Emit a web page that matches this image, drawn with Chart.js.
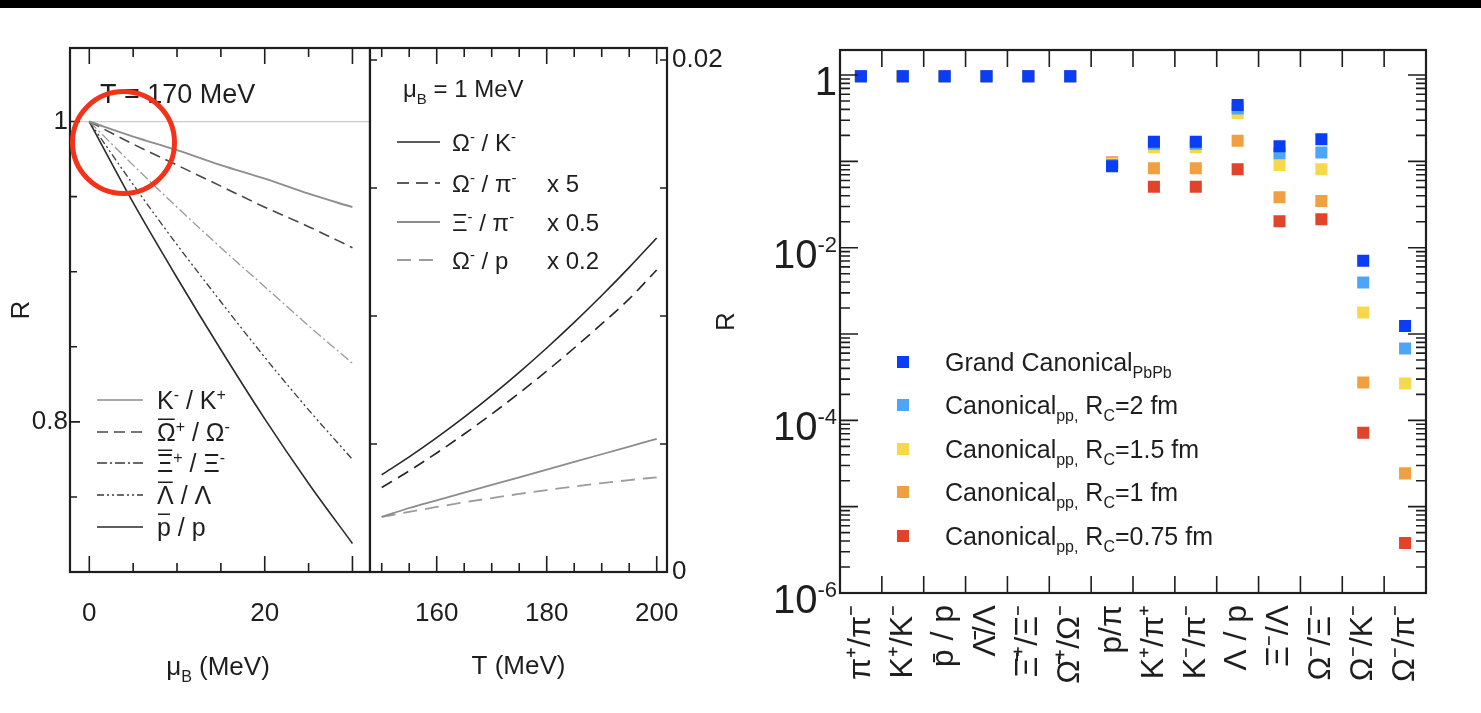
<!DOCTYPE html>
<html lang="en">
<head>
<meta charset="UTF-8">
<title>Particle ratios: grand canonical vs canonical</title>
<style>
  body { margin: 0; background: #fff; width: 1481px; height: 713px; overflow: hidden; position: relative; }
  #topbar { position: absolute; left: 0; top: 0; width: 1481px; height: 8px; background: #000; }
  .panel { position: absolute; top: 0; height: 713px; }
  #muPanel { left: 0; width: 370px; }
  #tPanel { left: 360px; width: 370px; }
  #ratioPanel { left: 700px; width: 781px; }
</style>
</head>
<body>
<div id="topbar"></div>
<div class="panel" id="muPanel"><canvas id="muChart"></canvas></div>
<div class="panel" id="tPanel"><canvas id="tChart"></canvas></div>
<div class="panel" id="ratioPanel"><canvas id="ratioChart"></canvas></div>

<script src="https://cdn.jsdelivr.net/npm/chart.js"></script>
<script>
// --- left panel: antiparticle/particle ratios vs muB at T = 170 MeV
const muB = [0, 5, 10, 15, 20, 25, 30];
const kaonRatio = [1, 0.990, 0.981, 0.971, 0.962, 0.952, 0.943];
const omegaRatio = [1, 0.985, 0.971, 0.957, 0.943, 0.930, 0.916];
const xiRatio = [1, 0.971, 0.943, 0.916, 0.890, 0.864, 0.839];
const lambdaRatio = [1, 0.958, 0.918, 0.880, 0.843, 0.808, 0.775];
const protonRatio = [1, 0.946, 0.896, 0.848, 0.802, 0.759, 0.719];
const unityLine = [1, 1];

// --- middle panel: strange ratios vs T at muB = 1 MeV
const temps = [150, 155, 160, 165, 170, 175, 180, 185, 190, 195, 200];
const omegaToKaon = [0.0038, 0.0045, 0.00525, 0.00605, 0.0069, 0.0078, 0.00875, 0.00975, 0.0108, 0.0119, 0.01305];
const omegaToPionX5 = [0.0033, 0.00395, 0.00465, 0.00539, 0.00617, 0.00699, 0.00785, 0.00875, 0.00969, 0.01067, 0.0118];
const xiToPionX05 = [0.00215, 0.0025, 0.0028, 0.0031, 0.0034, 0.0037, 0.0040, 0.0043, 0.0046, 0.0049, 0.0052];
const omegaToProtonX02 = [0.00215, 0.00235, 0.00254, 0.00272, 0.00289, 0.00305, 0.0032, 0.00334, 0.00347, 0.00359, 0.0037];

// --- right panel: ratios, grand canonical vs canonical
const ratioLabels = ['π⁺/π⁻', 'K⁺/K⁻', 'p̄ / p', 'Λ̄/Λ', 'Ξ̄⁺/Ξ⁻', 'Ω̄⁺/Ω⁻', 'p/π', 'K⁺/π⁺', 'K⁻/π⁻', 'Λ / p', 'Ξ⁻/Λ', 'Ω⁻/Ξ⁻', 'Ω⁻/K⁻', 'Ω⁻/π⁻'];
const grandCanonical = [0.97, 0.97, 0.97, 0.97, 0.97, 0.97, 0.088, 0.169, 0.169, 0.449, 0.150, 0.180, 0.00705, 0.00124];
const canonicalR2 = [0.97, 0.97, 0.97, 0.97, 0.97, 0.97, 0.091, 0.160, 0.160, 0.410, 0.124, 0.127, 0.00396, 0.00068];
const canonicalR15 = [0.97, 0.97, 0.97, 0.97, 0.97, 0.97, 0.094, 0.146, 0.146, 0.363, 0.0906, 0.081, 0.00178, 0.000268];
const canonicalR1 = [0.97, 0.97, 0.97, 0.97, 0.97, 0.97, 0.096, 0.083, 0.083, 0.173, 0.0383, 0.0347, 0.000275, 0.0000243];
const canonicalR075 = [0.97, 0.97, 0.97, 0.97, 0.97, 0.97, 0.097, 0.0508, 0.0508, 0.081, 0.0203, 0.0214, 0.000072, 0.0000038];

const FONT = '"Liberation Sans", Arial, Helvetica, sans-serif';
const INK = '#1e1e1e';
Chart.defaults.font.family = FONT;
Chart.defaults.color = INK;

// draws text made of parts: [text, mode], mode = '' | 'sup' | 'sub' | 'bar'
function richText(ctx, x, y, parts, size, dryRun) {
    let cx = x;
    for (const [t, mode] of parts) {
        const small = mode === 'sup' || mode === 'sub';
        const fs = small ? Math.round(size * 0.62) : size;
        ctx.font = fs + 'px ' + FONT;
        const dy = mode === 'sup' ? -size * 0.36 : mode === 'sub' ? size * 0.28 : 0;
        const w = ctx.measureText(t).width;
        if (!dryRun) {
            ctx.fillText(t, cx, y + dy);
            if (mode === 'bar') ctx.fillRect(cx + 1, y - size * 0.9, w - 2, Math.max(1.3, size * 0.06));
        }
        cx += w;
    }
    return cx - x;
}

const annotations = {
    id: 'annotations',
    afterDraw(chart, args, o) {
        const ctx = chart.ctx;
        ctx.save();
        ctx.textAlign = 'left';
        ctx.textBaseline = 'alphabetic';
        ctx.fillStyle = INK;
        (o.texts || []).forEach(t => {
            let x = t.x;
            if (t.center) x -= richText(ctx, 0, 0, t.parts, t.size, true) / 2;
            richText(ctx, x, t.y, t.parts, t.size);
        });
        (o.lineKey || []).forEach(row => {
            const ds = chart.data.datasets[row.ds];
            ctx.strokeStyle = row.color || ds.borderColor;
            ctx.lineWidth = ds.borderWidth;
            ctx.setLineDash(ds.borderDash || []);
            ctx.beginPath();
            ctx.moveTo(o.keyX0, row.y);
            ctx.lineTo(o.keyX1, row.y);
            ctx.stroke();
            ctx.setLineDash([]);
            ctx.fillStyle = INK;
            richText(ctx, o.keyText, row.y + o.keySize * 0.36, row.parts, o.keySize);
            if (row.factor) richText(ctx, o.factorX, row.y + o.keySize * 0.36, [[row.factor, '']], o.keySize);
        });
        (o.markerKey || []).forEach(row => {
            const ds = chart.data.datasets[row.ds];
            ctx.fillStyle = ds.backgroundColor;
            ctx.fillRect(o.keyX - 6, row.y - 6, 12, 12);
            ctx.fillStyle = INK;
            richText(ctx, o.keyText, row.y + o.keySize * 0.36, row.parts, o.keySize);
        });
        (o.logLabels || []).forEach(l => {
            const py = chart.scales.y.getPixelForValue(l.v);
            const right = chart.chartArea.left - 3;
            ctx.font = '22px ' + FONT;
            const ew = l.exp ? ctx.measureText(l.exp).width : 0;
            ctx.font = '40px ' + FONT;
            const bw = ctx.measureText(l.base).width;
            ctx.fillText(l.base, right - ew - bw, py + 20);
            if (l.exp) {
                ctx.font = '22px ' + FONT;
                ctx.fillText(l.exp, right - ew, py + 4);
            }
        });
        // hand-drawn highlight ring
        if (o.ring) {
            ctx.strokeStyle = o.ring.color;
            ctx.lineWidth = o.ring.width;
            ctx.beginPath();
            ctx.arc(o.ring.x, o.ring.y, o.ring.r, 0, Math.PI * 2);
            ctx.stroke();
        }
        ctx.restore();
    }
};

// frame around the plot area with inward tick marks
const frameTicks = {
    id: 'frameTicks',
    afterDatasetsDraw(chart, args, o) {
        const {ctx, chartArea: a, scales} = chart;
        ctx.save();
        ctx.strokeStyle = INK;
        ctx.lineWidth = 1.6;
        ctx.beginPath();
        (o.x || []).forEach(t => {
            const px = scales.x.getPixelForValue(t.v);
            ctx.moveTo(px, a.bottom); ctx.lineTo(px, a.bottom - t.len);
            ctx.moveTo(px, a.top); ctx.lineTo(px, a.top + t.len);
        });
        (o.y || []).forEach(t => {
            const py = scales.y.getPixelForValue(t.v);
            if (o.ySides.includes('left')) { ctx.moveTo(a.left, py); ctx.lineTo(a.left + t.len, py); }
            if (o.ySides.includes('right')) { ctx.moveTo(a.right, py); ctx.lineTo(a.right - t.len, py); }
        });
        ctx.stroke();
        ctx.lineWidth = 2.2;
        ctx.strokeRect(a.left, a.top, a.right - a.left, a.bottom - a.top);
        ctx.restore();
    }
};

function ticks(values, majors, long, short) {
    return values.map(v => ({v, len: majors.includes(v) ? long : short}));
}
function fixedTicks(values) {
    return s => { s.ticks = values.map(v => ({value: v})); };
}
function pts(xs, ys) { return xs.map((x, i) => ({x, y: ys[i]})); }
function lineSet(label, xs, ys, color, width, dash) {
    return {label, data: pts(xs, ys), borderColor: color, borderWidth: width, borderDash: dash || [],
        pointRadius: 0, fill: false, cubicInterpolationMode: 'monotone'};
}
const noGrid = {display: false, drawTicks: false};
// hidden grid whose tick length only pushes the labels away from the axis
const labelGap = {display: false, drawTicks: true, tickLength: 24};
const noBorder = {display: false};

// ---------- left panel
const MU_MIN = -2.2, MU_MAX = 32;
new Chart(document.getElementById('muChart'), {
    type: 'line',
    data: {
        datasets: [
            lineSet('K-/K+', muB, kaonRatio, '#8e8e8e', 2),
            lineSet('Omega', muB, omegaRatio, '#484848', 1.6, [11, 6]),
            lineSet('Xi', muB, xiRatio, '#9a9a9a', 1.3, [10, 3, 2, 3]),
            lineSet('Lambda', muB, lambdaRatio, '#3a3a3a', 1.3, [7, 3, 2, 3, 2, 3]),
            lineSet('p', muB, protonRatio, '#2a2a2a', 1.6),
            lineSet('unity', [MU_MIN, MU_MAX], unityLine, '#cccccc', 1.2)
        ]
    },
    options: {
        responsive: true, maintainAspectRatio: false, animation: false,
        layout: {padding: {top: 48, right: 0, left: 0, bottom: 0}},
        scales: {
            x: {
                type: 'linear', min: MU_MIN, max: MU_MAX,
                grid: labelGap, border: noBorder,
                ticks: {padding: 2, maxRotation: 0, autoSkip: false, font: {size: 26}, color: INK},
                afterBuildTicks: fixedTicks([0, 20]),
                afterFit: s => { s.height = 141; }
            },
            y: {
                min: 0.7, max: 1.049,
                grid: noGrid, border: noBorder,
                ticks: {padding: 2, autoSkip: false, font: {size: 26}, color: INK, callback: v => String(v)},
                afterBuildTicks: fixedTicks([0.8, 1]),
                title: {display: true, text: 'R', font: {size: 26}, color: INK, padding: {top: 6, bottom: 0}},
                afterFit: s => { s.width = 70; }
            }
        },
        plugins: {
            legend: {display: false}, tooltip: {enabled: false},
            frameTicks: {
                x: ticks([0, 5, 10, 15, 20, 25, 30], [0, 20, 30], 16, 9),
                y: ticks([0.7, 0.75, 0.8, 0.85, 0.9, 0.95, 1], [0.8, 1], 10, 7),
                ySides: ['left']
            },
            annotations: {
                texts: [
                    {x: 100, y: 103, size: 27, parts: [['T = 170 MeV', '']]},
                    {x: 218, y: 675, size: 26, center: true, parts: [['μ', ''], ['B', 'sub'], [' (MeV)', '']]}
                ],
                keyX0: 97, keyX1: 143, keyText: 157, keySize: 25,
                lineKey: [
                    {ds: 0, y: 400, color: '#a8a8a8', parts: [['K', ''], ['-', 'sup'], [' / K', ''], ['+', 'sup']]},
                    {ds: 1, y: 432, parts: [['Ω', 'bar'], ['+', 'sup'], [' / Ω', ''], ['-', 'sup']]},
                    {ds: 2, y: 463, color: '#3a3a3a', parts: [['Ξ', 'bar'], ['+', 'sup'], [' / Ξ', ''], ['-', 'sup']]},
                    {ds: 3, y: 495, parts: [['Λ', 'bar'], [' / Λ', '']]},
                    {ds: 4, y: 527, parts: [['p', 'bar'], [' / p', '']]}
                ],
                ring: {x: 123.5, y: 142.5, r: 51, width: 5, color: '#f2331a'}
            }
        }
    },
    plugins: [frameTicks, annotations]
});

// ---------- middle panel
const T_MIN = 147.87, T_MAX = 201.87;
new Chart(document.getElementById('tChart'), {
    type: 'line',
    data: {
        datasets: [
            lineSet('Omega/K', temps, omegaToKaon, '#262626', 1.6),
            lineSet('Omega/pi x5', temps, omegaToPionX5, '#262626', 1.6, [12, 7]),
            lineSet('Xi/pi x0.5', temps, xiToPionX05, '#8c8c8c', 1.8),
            lineSet('Omega/p x0.2', temps, omegaToProtonX02, '#9c9c9c', 1.8, [14, 8])
        ]
    },
    options: {
        responsive: true, maintainAspectRatio: false, animation: false,
        layout: {padding: {top: 48, right: 0, left: 10, bottom: 0}},
        scales: {
            x: {
                type: 'linear', min: T_MIN, max: T_MAX,
                grid: labelGap, border: noBorder,
                ticks: {padding: 2, maxRotation: 0, autoSkip: false, font: {size: 26}, color: INK},
                afterBuildTicks: fixedTicks([160, 180, 200]),
                title: {display: true, text: 'T (MeV)', font: {size: 26}, color: INK, padding: {top: 0, bottom: 31}},
                afterFit: s => { s.height = 141; }
            },
            y: {
                position: 'right', min: 0, max: 0.02047,
                grid: noGrid, border: noBorder,
                ticks: {padding: 5, autoSkip: false, font: {size: 26}, color: INK, callback: v => String(v)},
                afterBuildTicks: fixedTicks([0, 0.02]),
                afterFit: s => { s.width = 63; }
            }
        },
        plugins: {
            legend: {display: false}, tooltip: {enabled: false},
            frameTicks: {
                x: ticks([150, 155, 160, 165, 170, 175, 180, 185, 190, 195, 200], [160, 180, 200], 16, 9),
                y: ticks([0.005, 0.01, 0.015, 0.02], [], 7, 7),
                ySides: ['left', 'right']
            },
            annotations: {
                texts: [
                    {x: 43, y: 97, size: 24, parts: [['μ', ''], ['B', 'sub'], [' = 1 MeV', '']]}
                ],
                keyX0: 37, keyX1: 80, keyText: 92, keySize: 24, factorX: 187,
                lineKey: [
                    {ds: 0, y: 142, parts: [['Ω', ''], ['-', 'sup'], [' / K', ''], ['-', 'sup']]},
                    {ds: 1, y: 183, parts: [['Ω', ''], ['-', 'sup'], [' / π', ''], ['-', 'sup']], factor: 'x 5'},
                    {ds: 2, y: 222, parts: [['Ξ', ''], ['-', 'sup'], [' / π', ''], ['-', 'sup']], factor: 'x 0.5'},
                    {ds: 3, y: 260, parts: [['Ω', ''], ['-', 'sup'], [' / p', '']], factor: 'x 0.2'}
                ]
            }
        }
    },
    plugins: [frameTicks, annotations]
});

// ---------- right panel
const logTicks = [];
for (let e = -6; e <= 0; e++) {
    for (let m = 1; m <= 9; m++) {
        const v = m * Math.pow(10, e);
        if (v <= 1.95) logTicks.push({v, len: m === 1 ? 18 : 10});
    }
}
const catBounds = ratioLabels.slice(1).map((l, i) => ({v: i + 0.5, len: 17}));
function markerSet(label, values, color) {
    return {label, data: values, showLine: false, pointStyle: 'rect', pointRadius: 8.5,
        pointBackgroundColor: color, backgroundColor: color, borderWidth: 0, pointBorderWidth: 0};
}
new Chart(document.getElementById('ratioChart'), {
    type: 'line',
    data: {
        labels: ratioLabels,
        datasets: [
            markerSet('Grand Canonical PbPb', grandCanonical, '#0a3df5'),
            markerSet('Canonical pp, Rc=2 fm', canonicalR2, '#4ea5f7'),
            markerSet('Canonical pp, Rc=1.5 fm', canonicalR15, '#f7d84a'),
            markerSet('Canonical pp, Rc=1 fm', canonicalR1, '#f0a040'),
            markerSet('Canonical pp, Rc=0.75 fm', canonicalR075, '#e2432a')
        ]
    },
    options: {
        responsive: true, maintainAspectRatio: false, animation: false,
        layout: {padding: {top: 50, right: 55, left: 0, bottom: 0}},
        scales: {
            x: {
                type: 'category', offset: true,
                grid: noGrid, border: noBorder,
                ticks: {autoSkip: false, minRotation: 90, maxRotation: 90, padding: 12, font: {size: 32}, color: INK},
                afterFit: s => { s.height = 120; }
            },
            y: {
                type: 'logarithmic', min: 1e-6, max: 1.95,
                grid: noGrid, border: noBorder,
                ticks: {display: false},
                title: {display: true, text: 'R', font: {size: 26}, color: INK, padding: {top: 11, bottom: 0}},
                afterFit: s => { s.width = 140; }
            }
        },
        plugins: {
            legend: {display: false}, tooltip: {enabled: false},
            frameTicks: {x: catBounds, y: logTicks, ySides: ['left', 'right']},
            annotations: {
                logLabels: [
                    {v: 1, base: '1', exp: ''},
                    {v: 1e-2, base: '10', exp: '-2'},
                    {v: 1e-4, base: '10', exp: '-4'},
                    {v: 1e-6, base: '10', exp: '-6'}
                ],
                keyX: 203, keyText: 245, keySize: 25,
                markerKey: [
                    {ds: 0, y: 362, parts: [['Grand Canonical', ''], ['PbPb', 'sub']]},
                    {ds: 1, y: 405, parts: [['Canonical', ''], ['pp,', 'sub'], [' R', ''], ['C', 'sub'], ['=2 fm', '']]},
                    {ds: 2, y: 449, parts: [['Canonical', ''], ['pp,', 'sub'], [' R', ''], ['C', 'sub'], ['=1.5 fm', '']]},
                    {ds: 3, y: 492, parts: [['Canonical', ''], ['pp,', 'sub'], [' R', ''], ['C', 'sub'], ['=1 fm', '']]},
                    {ds: 4, y: 536, parts: [['Canonical', ''], ['pp,', 'sub'], [' R', ''], ['C', 'sub'], ['=0.75 fm', '']]}
                ]
            }
        }
    },
    plugins: [frameTicks, annotations]
});
</script>
</body>
</html>
